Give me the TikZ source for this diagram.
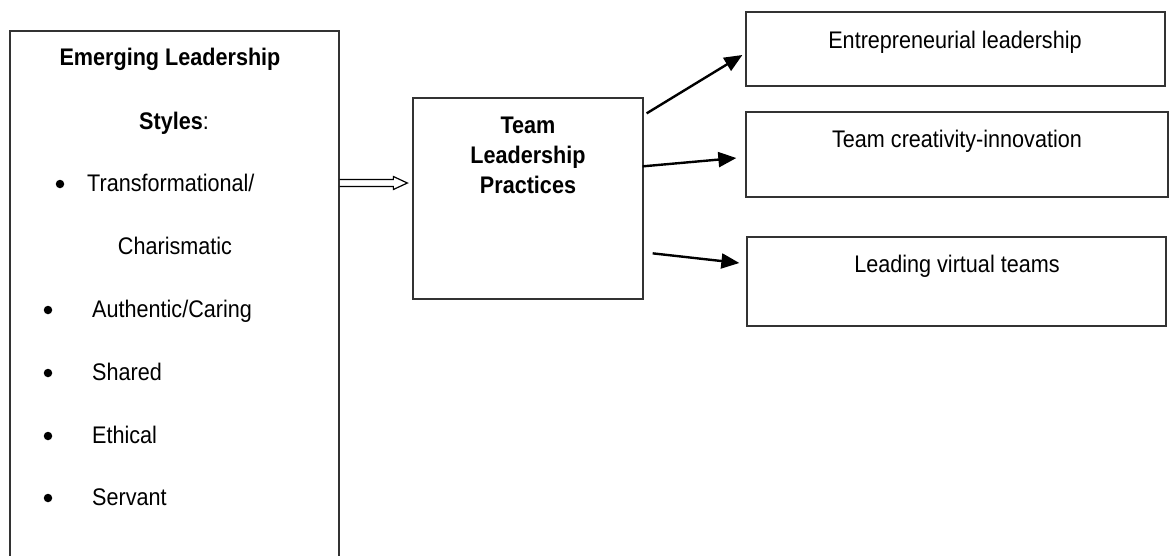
\documentclass[tikz,border=0pt]{standalone}
\usepackage{fontspec}
\setmainfont{Liberation Sans}[FakeStretch=0.9]
\usetikzlibrary{arrows.meta,calc}
\begin{document}
\begin{tikzpicture}[x=1pt,y=-1pt,
  box/.style={draw=black!80,line width=1.3pt,rectangle,inner sep=0pt},
  txt/.style={anchor=base,inner sep=0pt,font=\fontsize{24}{29}\selectfont},
  btxt/.style={txt,font=\fontsize{24}{29}\selectfont\bfseries},
  ltxt/.style={txt,anchor=base west},
  bul/.style={circle,fill=black,inner sep=0pt,minimum size=8.5pt},
  conn/.style={line width=2.4pt,-{Triangle[length=18pt,width=15pt]}}]
\useasboundingbox (0,0) rectangle (1169,555);
% boxes
\node[box,minimum width=329pt,minimum height=580pt] (lbox) at (174.5,321) {};
\node[box,minimum width=230pt,minimum height=201pt] (mbox) at (528,198.5) {};
\node[box,minimum width=419pt,minimum height=74pt] (r1) at (955.5,49) {};
\node[box,minimum width=422pt,minimum height=85pt] (r2) at (957,154.5) {};
\node[box,minimum width=419pt,minimum height=89pt] (r3) at (956.5,281.5) {};
% left texts
\node[btxt] (l1) at (170,65) {Emerging Leadership};
\node[txt] (l2) at (174,129) {\textbf{Styles}:};
\node[bul] (b1) at (60,184) {};
\node[ltxt] (l3) at (87,191) {Transformational/};
\node[txt] (l4) at (175,254) {Charismatic};
\node[bul] (b2) at (48,310) {};
\node[ltxt] (l5) at (92,317) {Authentic/Caring};
\node[bul] (b3) at (48,373) {};
\node[ltxt] (l6) at (92,380) {Shared};
\node[bul] (b4) at (48,436) {};
\node[ltxt] (l7) at (92,443) {Ethical};
\node[bul] (b5) at (48,498) {};
\node[ltxt] (l8) at (92,505) {Servant};
% middle texts
\node[btxt] (m1) at (528,133) {Team};
\node[btxt] (m2) at (528,163) {Leadership};
\node[btxt] (m3) at (528,193) {Practices};
% right texts
\node[txt] (t1) at (955,48) {Entrepreneurial leadership};
\node[txt] (t2) at (957,147) {Team creativity-innovation};
\node[txt] (t3) at (957,272) {Leading virtual teams};
% double (hollow) arrow
\coordinate (da) at (lbox.east |- 0,183);
\coordinate (db) at (mbox.west |- 0,183);
\draw[line width=1.2pt,line join=miter]
  ($(da)+(0,-3.5)$) -- ($(db)+(-19,-3.5)$) -- ($(db)+(-19,-6.5)$) -- ($(db)+(-5,0)$)
  -- ($(db)+(-19,6.5)$) -- ($(db)+(-19,3.5)$) -- ($(da)+(0,3.5)$);
% connectors
\coordinate (s1) at ($(mbox.north east)+(3,16)$);
\coordinate (s2) at ($(mbox.north east)+(-1,69)$);
\coordinate (s3) at ($(mbox.north east)+(9,156)$);
\draw[conn] (s1) -- ($(r1.west)+(-3,6)$);
\draw[conn] (s2) -- ($(r2.west)+(-9,3.5)$);
\draw[conn] (s3) -- ($(r3.west)+(-7,-18.5)$);
\end{tikzpicture}
\end{document}
